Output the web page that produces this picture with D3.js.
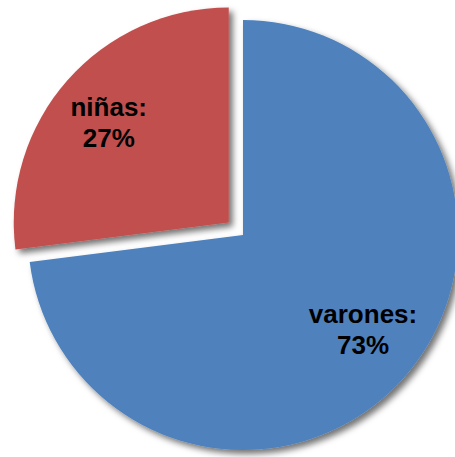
<!DOCTYPE html>
<html>
<head>
<meta charset="utf-8">
<script src="https://cdn.jsdelivr.net/npm/d3@7"></script>
<style>
  html, body { margin: 0; padding: 0; background: #ffffff; }
  svg { display: block; }
</style>
</head>
<body>
<svg id="chart" width="455" height="457"></svg>
<script>
// Reparto del alumnado por sexo
const categories = ["varones", "niñas"];
const values = [73, 27];
const colors = ["#4F81BD", "#C0504D"];
const explode = [0, 19];

const width = 455, height = 457;
const cx = 243, cy = 235, radius = 215;
// Labels sit on a slightly flattened ring inside the pie
const labelRadius = 160, labelSquash = 0.92, labelLift = -3;

const svg = d3.select("#chart");

const defs = svg.append("defs");
const shadow = defs.append("filter")
  .attr("id", "shadow")
  .attr("x", "-20%").attr("y", "-20%")
  .attr("width", "140%").attr("height", "140%");
shadow.append("feDropShadow")
  .attr("dx", 4).attr("dy", 4)
  .attr("stdDeviation", 3)
  .attr("flood-color", "#000")
  .attr("flood-opacity", 0.55);

const pie = d3.pie().sort(null).value(d => d.value).startAngle(0).endAngle(2 * Math.PI);
const data = pie(categories.map((c, i) => ({ name: c, value: values[i], color: colors[i], explode: explode[i] })));

const arc = d3.arc().innerRadius(0).outerRadius(radius);
const labelArc = d3.arc().innerRadius(labelRadius).outerRadius(labelRadius);

const total = d3.sum(values);

// Each slice is pushed out along its bisector by its explode distance
function offset(d) {
  const mid = (d.startAngle + d.endAngle) / 2;
  return [Math.sin(mid) * d.data.explode, -Math.cos(mid) * d.data.explode];
}

const root = svg.append("g").attr("transform", `translate(${cx},${cy})`);

// Draw the exploded slice first so the larger slice sits above its shadow
const order = data.slice().sort((a, b) => b.data.explode - a.data.explode);

const slices = root.selectAll("g.slice")
  .data(order)
  .join("g")
  .attr("class", "slice")
  .attr("transform", d => { const o = offset(d); return `translate(${o[0]},${o[1]})`; });

slices.append("path")
  .attr("d", arc)
  .attr("fill", d => d.data.color)
  .attr("filter", "url(#shadow)");

const labels = slices.append("text")
  .attr("transform", d => {
    const c = labelArc.centroid(d);
    return `translate(${c[0]},${c[1] * labelSquash + labelLift})`;
  })
  .attr("text-anchor", "middle")
  .attr("font-family", "Liberation Sans, Arial, sans-serif")
  .attr("font-weight", "bold")
  .attr("font-size", 26)
  .attr("fill", "#000");

labels.append("tspan")
  .attr("x", 0)
  .attr("y", -6)
  .text(d => d.data.name + ":");

labels.append("tspan")
  .attr("x", 0)
  .attr("y", 25)
  .text(d => Math.round(d.data.value / total * 100) + "%");
</script>
</body>
</html>
